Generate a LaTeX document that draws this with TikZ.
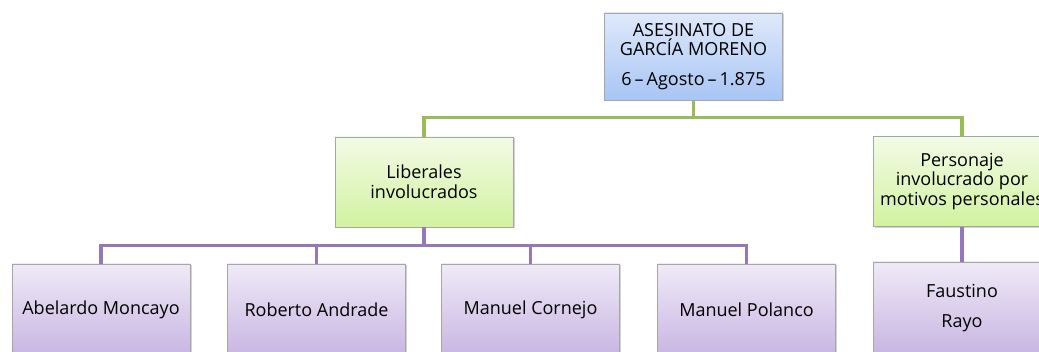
\documentclass[tikz,border=0pt]{standalone}
\usepackage{fontspec}
\setmainfont{Open Sans}
\usepackage{tikz}
\usetikzlibrary{shadows}

\definecolor{azulA}{HTML}{DFE9FB}
\definecolor{azulB}{HTML}{A8C5F4}
\definecolor{verdeA}{HTML}{F2FBE6}
\definecolor{verdeB}{HTML}{D2F2A0}
\definecolor{moradoA}{HTML}{EFEAF7}
\definecolor{moradoB}{HTML}{C8B5E2}
\definecolor{verde}{HTML}{9BBB59}
\definecolor{morado}{HTML}{9479B8}

\begin{document}
\begin{tikzpicture}[x=1pt,y=-1pt,
			every node/.style={draw=black!35,line width=0.6pt,align=center,
				font=\fontsize{18}{19.5}\selectfont,minimum width=178pt,inner xsep=1pt,
				drop shadow={opacity=0.35,shadow xshift=1.5pt,shadow yshift=-1.5pt}},
			cabeza/.style={top color=azulA,bottom color=azulB,minimum height=87pt},
			grupo/.style={top color=verdeA,bottom color=verdeB,minimum height=90pt},
			persona/.style={top color=moradoA,bottom color=moradoB,minimum height=92pt},
			ramaverde/.style={draw=verde,line width=3.5pt},
			ramamorada/.style={draw=morado,line width=3.5pt}]
		\useasboundingbox (0,0) rectangle (1039,352);
		% nodos
		\node[cabeza] (asesinato) at (693.5,56.5) {ASESINATO DE\\GARCÍA MORENO\\[10pt]6\,–\,Agosto\,–\,1.875};
		\node[grupo] (liberales) at (424,182) {Liberales\\involucrados};
		\node[grupo] (personaje) at (962,181.5) {Personaje\\involucrado por\\motivos personales};
		\node[persona] (moncayo) at (101,310) {Abelardo Moncayo};
		\node[persona] (andrade) at (316.5,310) {Roberto Andrade};
		\node[persona] (cornejo) at (530.5,310) {Manuel Cornejo};
		\node[persona] (polanco) at (746.5,310) {Manuel Polanco};
		\node[persona] (rayo) at (962,308) {Faustino\\[10pt]Rayo};
		% ramas
		\begin{scope}[on background layer/.try]
			\draw[ramaverde] (asesinato.south) -- ++(0,17) -| (liberales.north);
			\draw[ramaverde] (asesinato.south) -- ++(0,17) -| (personaje.north);
			\foreach \hijo in {moncayo,andrade,cornejo,polanco}
				\draw[ramamorada] (liberales.south) -- ++(0,18) -| (\hijo.north);
			\draw[ramamorada] (personaje.south) -- (rayo.north);
		\end{scope}
\end{tikzpicture}
\end{document}
